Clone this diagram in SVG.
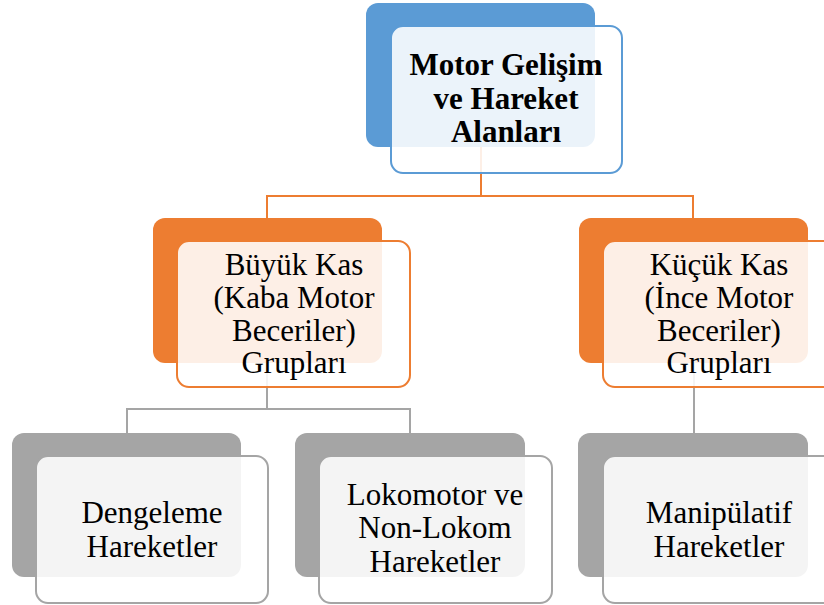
<svg xmlns="http://www.w3.org/2000/svg" width="824" height="605" viewBox="0 0 824 605">
<style>
.bg{fill:#fff}
.backB{fill:#5B9BD5}
.backO{fill:#ED7D31}
.backG{fill:#A5A5A5}
.front{fill:#fff;fill-opacity:0.88;stroke-width:2}
.fB{stroke:#5B9BD5}
.fO{stroke:#ED7D31}
.fG{stroke:#A5A5A5}
.conO{fill:none;stroke:#ED7D31;stroke-width:2}
.conG{fill:none;stroke:#A5A5A5;stroke-width:2}
text{font-size:31px;fill:#000;text-anchor:middle}
.b{font-weight:bold}
</style>
<rect class="bg" x="0" y="0" width="824" height="605"/>
<g id="connectors">
<path class="conO" d="M481,147 V196 H267 V218 M481,196 H693 V218"/>
<path class="conG" d="M267,363 V409 H127 V433 M267,409 H410 V433 M694,363 V433"/>
</g>
<g font-family="Liberation Serif, Times New Roman, DejaVu Serif, serif">
<g id="node-root">
<rect class="backB" x="366" y="3" width="229" height="144" rx="12"/>
<rect class="front fB" x="391" y="26" width="231" height="147" rx="12"/>
<text class="b" x="506" y="75">Motor Gelişim</text>
<text class="b" x="506" y="108.5">ve Hareket</text>
<text class="b" x="506" y="142">Alanları</text>
</g>
<g id="node-buyuk">
<rect class="backO" x="153" y="218" width="229" height="145" rx="12"/>
<rect class="front fO" x="177" y="241" width="233" height="146" rx="12"/>
<text x="294" y="275">Büyük Kas</text>
<text x="294" y="308">(Kaba Motor</text>
<text x="294" y="341">Beceriler)</text>
<text x="294" y="373">Grupları</text>
</g>
<g id="node-kucuk">
<rect class="backO" x="579" y="218" width="229" height="145" rx="12"/>
<rect class="front fO" x="603" y="241" width="233" height="146" rx="12"/>
<text x="719" y="275">Küçük Kas</text>
<text x="719" y="308">(İnce Motor</text>
<text x="719" y="341">Beceriler)</text>
<text x="719" y="373">Grupları</text>
</g>
<g id="node-dengeleme">
<rect class="backG" x="12" y="433" width="229" height="144" rx="12"/>
<rect class="front fG" x="36" y="456" width="232" height="147" rx="12"/>
<text x="152" y="523">Dengeleme</text>
<text x="152" y="557">Hareketler</text>
</g>
<g id="node-lokomotor">
<rect class="backG" x="295" y="433" width="230" height="144" rx="12"/>
<rect class="front fG" x="319" y="456" width="233" height="147" rx="12"/>
<text x="435" y="505">Lokomotor ve</text>
<text x="435" y="538">Non-Lokom</text>
<text x="435" y="572">Hareketler</text>
</g>
<g id="node-manipulatif">
<rect class="backG" x="578" y="433" width="230" height="144" rx="12"/>
<rect class="front fG" x="603" y="456" width="233" height="147" rx="12"/>
<text x="719" y="523">Manipülatif</text>
<text x="719" y="557">Hareketler</text>
</g>
</g>
</svg>
